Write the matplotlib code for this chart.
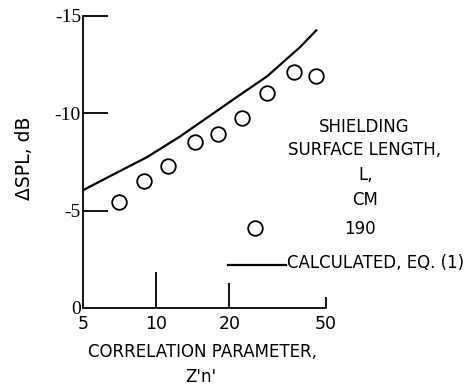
import matplotlib
matplotlib.use("Agg")
import matplotlib.pyplot as plt
from matplotlib.lines import Line2D
from matplotlib.ticker import FixedLocator, FixedFormatter, NullLocator

# Measured shielding effect, L = 190 cm
corr_param = [7.0, 8.9, 11.2, 14.4, 18.0, 22.5, 28.5, 36.9, 45.5]
delta_spl = [-5.45, -6.5, -7.3, -8.55, -8.95, -9.75, -11.05, -12.1, -11.9]

# Calculated curve, Eq. (1)
calc_x = [5.0, 6.64, 9.17, 12.5, 17.2, 20.7, 28.6, 39.1, 45.9]
calc_y = [-6.05, -6.85, -7.75, -8.8, -10.0, -10.7, -11.9, -13.4, -14.3]

x_ticks = [5, 10, 20, 50]
x_labels = ["5", "10", "20", "50"]
y_ticks = [0, -5, -10, -15]
y_labels = ["0", "-5", "-10", "-15"]

W, H = 470, 386
fig = plt.figure(figsize=(W / 100, H / 100), dpi=100)
ax = fig.add_axes([83 / W, 1 - 308 / H, 243 / W, 292 / H])

SANS = ["DejaVu Sans"]
SERIF = ["Liberation Serif", "DejaVu Serif"]

ax.plot(calc_x, calc_y, color="black", lw=1.6, solid_capstyle="butt", clip_on=False)
ax.plot(corr_param, delta_spl, linestyle="none", marker="o", ms=10.5,
        mfc="white", mec="black", mew=1.3, clip_on=False)

ax.set_xscale("log")
ax.set_xlim(5, 50)
ax.set_ylim(0, -15)

ax.xaxis.set_major_locator(FixedLocator(x_ticks))
ax.xaxis.set_major_formatter(FixedFormatter(x_labels))
ax.xaxis.set_minor_locator(NullLocator())
ax.yaxis.set_major_locator(FixedLocator(y_ticks))
ax.yaxis.set_major_formatter(FixedFormatter(y_labels))

for s in ("top", "right"):
    ax.spines[s].set_visible(False)
for s in ("left", "bottom"):
    ax.spines[s].set_linewidth(1.3)

ax.tick_params(axis="both", direction="in", width=1.3, color="black")
ax.tick_params(axis="x", pad=5, labelsize=12.5)
ax.tick_params(axis="y", pad=1.5, labelsize=14)
for lab in ax.get_xticklabels():
    lab.set_family(SANS)
for lab in ax.get_yticklabels():
    lab.set_family(SERIF)

# individual tick lengths (points)
x_len = [0, 26, 18, 8]
for t, L in zip(ax.xaxis.get_major_ticks(), x_len):
    t.tick1line.set_markersize(L)
y_len = [0, 18, 18, 18]
for t, L in zip(ax.yaxis.get_major_ticks(), y_len):
    t.tick1line.set_markersize(L)

def ftext(x, y, s, **kw):
    kw.setdefault("family", SANS)
    kw.setdefault("fontsize", 12)
    kw.setdefault("ha", "center")
    kw.setdefault("va", "center")
    fig.text(x / W, 1 - y / H, s, **kw)

ftext(24, 158, "ΔSPL, dB", rotation=90, fontsize=13.5)
ftext(203, 352, "CORRELATION PARAMETER,")
ftext(201, 377, "Z'n'")

ftext(364, 127, "SHIELDING")
ftext(365, 150, "SURFACE LENGTH,")
ftext(366, 175, "L,")
ftext(365, 200, "CM")
ftext(360, 229, "190")
ftext(287, 263, "CALCULATED, EQ. (1)", ha="left")

fig.add_artist(Line2D([255 / W], [1 - 228 / H], marker="o", ms=10.5,
                      mfc="white", mec="black", mew=1.3, linestyle="none"))
fig.add_artist(Line2D([228 / W, 286 / W], [1 - 265 / H, 1 - 265 / H],
                      color="black", lw=1.6))

fig.savefig("out.png", dpi=100)
